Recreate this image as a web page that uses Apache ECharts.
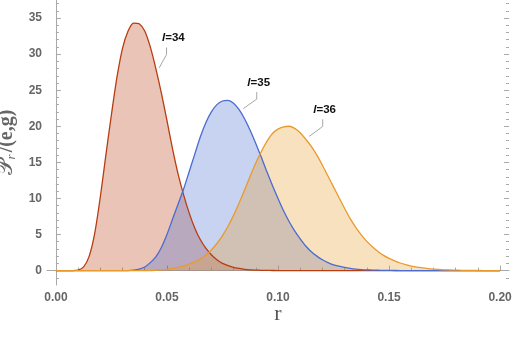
<!DOCTYPE html>
<html>
<head>
<meta charset="utf-8">
<script src="https://cdn.jsdelivr.net/npm/echarts@6/dist/echarts.min.js"></script>
<style>
  html, body { margin: 0; padding: 0; background: #fff; }
  #chart { width: 514px; height: 337px; }
</style>
</head>
<body>
<div id="chart"></div>
<script>
// r grid (step 0.0025)
var rValues = [
  0, 0.0025, 0.005, 0.0075, 0.01, 0.0125, 0.015, 0.0175, 0.02, 0.0225,
  0.025, 0.0275, 0.03, 0.0325, 0.035, 0.0375, 0.04, 0.0425, 0.045, 0.0475,
  0.05, 0.0525, 0.055, 0.0575, 0.06, 0.0625, 0.065, 0.0675, 0.07, 0.0725,
  0.075, 0.0775, 0.08, 0.0825, 0.085, 0.0875, 0.09, 0.0925, 0.095, 0.0975,
  0.1, 0.1025, 0.105, 0.1075, 0.11, 0.1125, 0.115, 0.1175, 0.12, 0.1225,
  0.125, 0.1275, 0.13, 0.1325, 0.135, 0.1375, 0.14, 0.1425, 0.145, 0.1475,
  0.15, 0.1525, 0.155, 0.1575, 0.16, 0.1625, 0.165, 0.1675, 0.17, 0.1725,
  0.175, 0.1775, 0.18, 0.1825, 0.185, 0.1875, 0.19, 0.1925, 0.195, 0.1975,
  0.2
];

// l = 34
var p34 = [
  0, 0, 0, 0, 0.05, 0.5, 2.0, 5.2, 10.2, 16.0,
  21.6, 26.8, 30.8, 33.2, 34.3, 34.2, 33.2, 31.0, 28.0, 24.6,
  20.8, 16.9, 13.4, 10.5, 8.0, 5.9, 4.3, 3.1, 2.2, 1.5,
  1.0, 0.7, 0.45, 0.3, 0.18, 0.11, 0.07, 0.04, 0.02, 0.01,
  0, 0, 0, 0, 0, 0, 0, 0, 0, 0,
  0, 0, 0, 0, 0, 0, 0, 0, 0, 0,
  0, 0, 0, 0, 0, 0, 0, 0, 0, 0,
  0, 0, 0, 0, 0, 0, 0, 0, 0, 0,
  0
];

// l = 35
var p35 = [
  0, 0, 0, 0, 0, 0, 0, 0, 0, 0,
  0, 0, 0, 0, 0.05, 0.2, 0.5, 1.1, 1.9, 3.2,
  5.0, 7.1, 9.2, 11.3, 13.7, 16.1, 18.5, 20.5, 22.0, 23.0,
  23.5, 23.6, 23.2, 22.3, 21.0, 19.4, 17.6, 15.7, 13.7, 11.8,
  10.0, 8.3, 6.8, 5.5, 4.4, 3.4, 2.6, 2.0, 1.5, 1.1,
  0.8, 0.6, 0.43, 0.3, 0.2, 0.14, 0.1, 0.07, 0.05, 0.03,
  0.02, 0.01, 0, 0, 0, 0, 0, 0, 0, 0,
  0, 0, 0, 0, 0, 0, 0, 0, 0, 0,
  0
];

// l = 36
var p36 = [
  0, 0, 0, 0, 0, 0, 0, 0, 0, 0,
  0, 0, 0, 0, 0, 0, 0, 0, 0.05, 0.1,
  0.18, 0.3, 0.45, 0.65, 0.9, 1.2, 1.6, 2.15, 2.85, 3.75,
  4.85, 6.15, 7.65, 9.35, 11.2, 13.1, 14.9, 16.5, 17.9, 19.0,
  19.6, 19.9, 20.0, 19.7, 19.1, 18.2, 17.2, 16.0, 14.6, 13.1,
  11.6, 10.1, 8.6, 7.2, 6.0, 4.95, 4.05, 3.3, 2.65, 2.1,
  1.68, 1.33, 1.05, 0.82, 0.63, 0.48, 0.37, 0.28, 0.21, 0.15,
  0.11, 0.08, 0.06, 0.04, 0.03, 0.02, 0.01, 0, 0, 0,
  0
];

var seriesNames = ['34', '35', '36'];
var xMajorTicks = [0, 0.05, 0.1, 0.15, 0.2];
var xMinorTicks = [0.01, 0.02, 0.03, 0.04, 0.06, 0.07, 0.08, 0.09, 0.11, 0.12, 0.13, 0.14, 0.16, 0.17, 0.18, 0.19];
var yMajorTicks = [0, 5, 10, 15, 20, 25, 30, 35];
var yMinorTicks = [-1, 1, 2, 3, 4, 6, 7, 8, 9, 11, 12, 13, 14, 16, 17, 18, 19, 21, 22, 23, 24, 26, 27, 28, 29, 31, 32, 33, 34, 36, 37];

// where each callout leader touches its curve
var calloutAnchors = [[0.0465, 28.1], [0.0844, 22.45], [0.1141, 18.6]];

var frameColor = '#a8a8a8';
var lineColors = ['#b83c10', '#4a6bd0', '#e89a2c'];

function pairs(ys) {
  return rValues.map(function (r, i) { return [r, ys[i]]; });
}

var chart = echarts.init(document.getElementById('chart'));

function tickAxis(pos, ticks, len, extra) {
  var a = {
    type: 'value',
    position: pos,
    axisLine: { show: false },
    axisTick: { show: true, inside: true, length: len, customValues: ticks, lineStyle: { color: frameColor, width: 1 } },
    axisLabel: { show: false },
    splitLine: { show: false }
  };
  for (var k in extra) a[k] = extra[k];
  return a;
}

var xRange = { min: -0.004, max: 0.204 };
var yRange = { min: -2, max: 37.5 };

var option = {
  animation: false,
  backgroundColor: '#fff',
  grid: { left: 47, right: 5, top: 0, bottom: 52, outerBoundsMode: 'none', containLabel: false },
  xAxis: [
    {
      type: 'value',
      position: 'bottom',
      min: xRange.min, max: xRange.max,
      axisLine: { show: true, lineStyle: { color: frameColor, width: 1 } },
      axisTick: { show: true, inside: true, length: 5, customValues: xMajorTicks, lineStyle: { color: frameColor } },
      axisLabel: {
        customValues: xMajorTicks,
        margin: 7,
        fontSize: 12,
        fontWeight: 'bold',
        fontFamily: 'Liberation Sans',
        color: '#666',
        formatter: function (v) { return v.toFixed(2); }
      },
      splitLine: { show: false },
      name: 'r',
      nameLocation: 'middle',
      nameGap: 18,
      nameMoveOverlap: false,
      nameTextStyle: { fontFamily: 'Liberation Serif', fontSize: 22, color: '#555' }
    },
    tickAxis('bottom', xMinorTicks, 3, xRange)
  ],
  yAxis: [
    {
      type: 'value',
      position: 'left',
      min: yRange.min, max: yRange.max,
      axisLine: { show: true, lineStyle: { color: frameColor, width: 1 } },
      axisTick: { show: true, inside: true, length: 5, customValues: yMajorTicks, lineStyle: { color: frameColor } },
      axisLabel: {
        customValues: yMajorTicks,
        margin: 5,
        fontSize: 12,
        fontWeight: 'bold',
        fontFamily: 'Liberation Sans',
        color: '#666'
      },
      splitLine: { show: false },
      name: '{p|\uD835\uDCAB}{s|r}{t|/(e,g)}',
      nameLocation: 'middle',
      nameGap: 20,
      nameRotate: 90,
      nameTextStyle: {
        color: '#666',
        rich: {
          p: { fontFamily: 'DejaVu Serif', fontSize: 22, color: '#666' },
          s: { fontFamily: 'Liberation Serif', fontStyle: 'italic', fontSize: 13, color: '#666', verticalAlign: 'bottom', padding: [9, 2, 0, 0] },
          t: { fontFamily: 'Liberation Serif', fontWeight: 'bold', fontSize: 20, color: '#666' }
        }
      }
    },
    tickAxis('left', yMinorTicks, 3, yRange),
    tickAxis('right', yMajorTicks, 5, yRange),
    tickAxis('right', yMinorTicks, 3, yRange)
  ],
  series: [p34, p35, p36].map(function (ys, i) {
    return {
      name: 'l=' + seriesNames[i],
      type: 'line',
      xAxisIndex: 0,
      yAxisIndex: 0,
      data: pairs(ys),
      showSymbol: false,
      smooth: 0.25,
      lineStyle: { color: lineColors[i], width: 1.3, join: 'round' },
      itemStyle: { color: lineColors[i] },
      areaStyle: { color: lineColors[i], opacity: 0.3 }
    };
  })
};

chart.setOption(option);

// callouts: leader line + label, placed from the curve points
var elbowOffsets = [[7.4, -13.3], [13.4, -9.5], [13.4, -10]];
var textShift = [-4.6, -9.4, -9.4];
var graphics = [];
calloutAnchors.forEach(function (a, i) {
  var p0 = chart.convertToPixel({ xAxisIndex: 0, yAxisIndex: 0 }, a);
  var p1 = [p0[0] + elbowOffsets[i][0], p0[1] + elbowOffsets[i][1]];
  var p2 = [p1[0], p1[1] - 7];
  graphics.push({
    type: 'polyline',
    shape: { points: [p0, p1, p2] },
    style: { stroke: '#a6a6a6', lineWidth: 1, fill: null },
    z: 100
  });
  graphics.push({
    type: 'text',
    x: p2[0] + textShift[i],
    y: p2[1] - 9.7,
    style: {
      text: '{i|l}{b|=' + seriesNames[i] + '}',
      verticalAlign: 'middle',
      rich: {
        i: { fontFamily: 'Liberation Sans', fontStyle: 'italic', fontWeight: 'bold', fontSize: 11.5, fill: '#111' },
        b: { fontFamily: 'Liberation Sans', fontWeight: 'bold', fontSize: 11.5, fill: '#111' }
      }
    },
    z: 100
  });
});
chart.setOption({ graphic: graphics });
</script>
</body>
</html>
